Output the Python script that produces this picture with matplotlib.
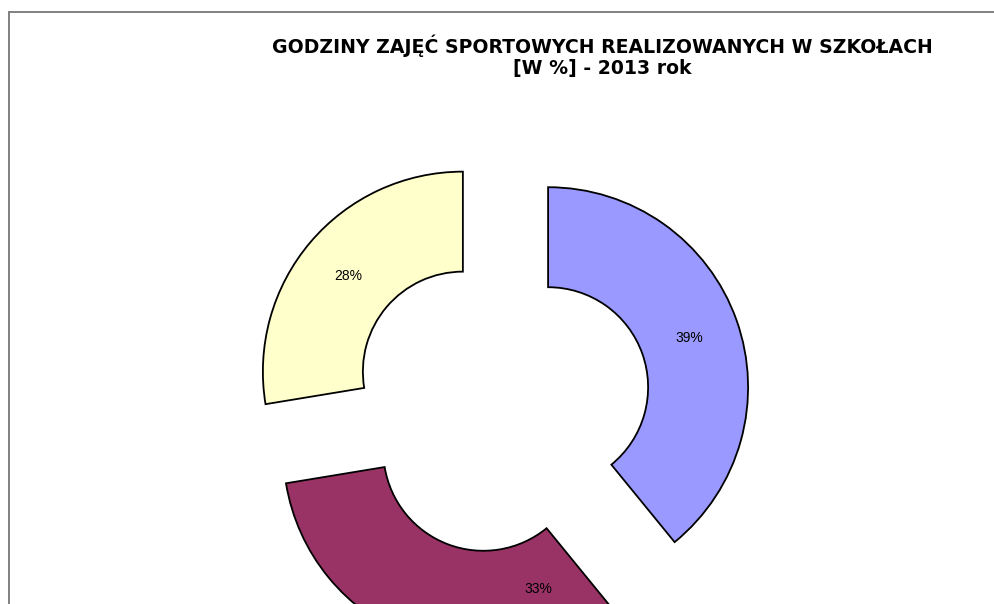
import numpy as np
import matplotlib.pyplot as plt
from matplotlib.patches import Rectangle

# data
shares = [39.1, 33.3, 27.6]
share_labels = ['39%', '33%', '28%']
colors = ['#9999FF', '#993366', '#FFFFCC']
title = 'GODZINY ZAJĘĆ SPORTOWYCH REALIZOWANYCH W SZKOŁACH\n[W %] - 2013 rok'

plt.rcParams['font.family'] = ['Liberation Sans', 'DejaVu Sans']

fig = plt.figure(figsize=(9.95, 6.04), dpi=100)
ax = fig.add_axes([0, 0, 1, 1])

R = 200
wedges, texts = ax.pie(shares, colors=colors, startangle=90, counterclock=False,
                       center=(501, 200), radius=R, explode=[50] * 3,
                       wedgeprops=dict(width=100, edgecolor='black', linewidth=1.3),
                       labels=share_labels, labeldistance=0.75,
                       textprops=dict(fontsize=10, ha='center', va='center_baseline'))

# the 33% label sits off the bisector in the original, nearer the visible part
w = wedges[1]
a = np.deg2rad(-68)
texts[1].set_position((w.center[0] + 0.74 * R * np.cos(a),
                       w.center[1] + 0.74 * R * np.sin(a)))

ax.set_xlim(0, 995)
ax.set_ylim(0, 604)
ax.set_aspect('equal')
ax.axis('off')

# chart frame (runs off the right and bottom edges)
ax.add_patch(Rectangle((9, -20), 1100, 612, fill=False,
                       edgecolor='#808080', linewidth=1.4, clip_on=False))

fig.text(602 / 995, 1 - 56.5 / 604, title, ha='center', va='center',
         fontsize=13.6, fontweight='bold', linespacing=1.15, family='DejaVu Sans')

fig.savefig('out.png', dpi=100)
